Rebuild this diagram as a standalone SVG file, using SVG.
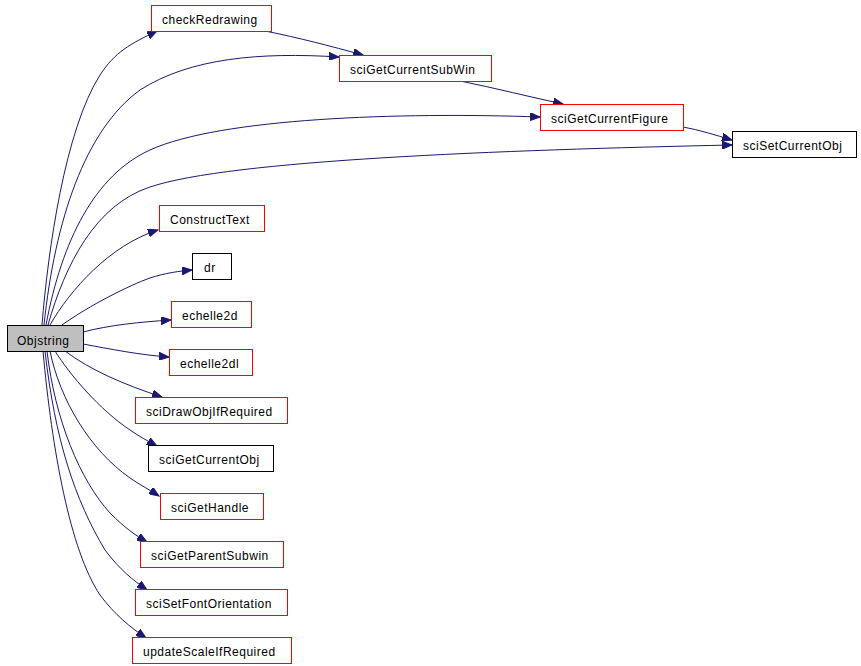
<svg xmlns="http://www.w3.org/2000/svg" width="861" height="666" viewBox="0 0 861 666">
<style>
.n rect{fill:#fff;stroke:#f00;stroke-width:1}
.n.b rect{stroke:#000}
.n.root rect{fill:#bfbfbf;stroke:#000}
.n text{font-family:"Liberation Sans",Arial,sans-serif;font-size:12px;letter-spacing:0.5px;fill:#000}
#edges path{fill:none;stroke:#191970;stroke-width:1;marker-end:url(#ah)}
</style>
<defs>
<marker id="ah" markerUnits="userSpaceOnUse" markerWidth="11" markerHeight="8" refX="10" refY="4" orient="auto">
<path d="M0,0 L10,4 L0,8 z" fill="#191970" stroke="#191970"/>
</marker>
</defs>
<rect width="861" height="666" fill="#fff"/>
<g id="edges">
<path d="M42,325 C48,250 65,130 100,75 C115,52 130,44 157,31"/>
<path d="M44,325 C55,220 85,130 140,90 C190,58 260,52 339,57"/>
<path d="M265,31 C300,38 330,46 363,55"/>
<path d="M46,325 C62,240 95,175 150,150 C220,118 400,112 540,117"/>
<path d="M460,81 C495,88 530,97 563,104"/>
<path d="M683,127 C700,130 715,135 732,140"/>
<path d="M48,325 C65,265 95,205 150,187 C230,160 500,150 732,145"/>
<path d="M50,325 C70,290 110,245 158,230"/>
<path d="M62,325 C90,305 130,285 150,278 C165,273 180,271 192,270"/>
<path d="M83,332 C110,325 140,322 171,320"/>
<path d="M83,344 C110,349 140,355 169,357"/>
<path d="M65,351 C90,370 125,385 162,397"/>
<path d="M55,351 C70,375 100,410 130,430 C140,437 148,441 157,446"/>
<path d="M50,351 C60,400 90,450 130,478 C140,485 150,490 159,496"/>
<path d="M47,351 C55,420 80,480 110,513 C125,528 135,535 147,542"/>
<path d="M45,351 C55,440 75,500 105,550 C120,570 133,580 147,590"/>
<path d="M43,351 C52,450 70,550 100,595 C115,615 130,627 146,638"/>
</g>
<g id="Objstring" class="n root"><rect x="7.5" y="325.5" width="76" height="26"/><text x="17" y="344.5">Objstring</text></g>
<g id="checkRedrawing" class="n"><rect x="151.5" y="5.5" width="120" height="26"/><text x="162" y="24">checkRedrawing</text></g>
<g id="sciGetCurrentSubWin" class="n"><rect x="339.5" y="55.5" width="152" height="26"/><text x="350" y="74">sciGetCurrentSubWin</text></g>
<g id="sciGetCurrentFigure" class="n"><rect x="540.5" y="104.5" width="143" height="26"/><text x="551" y="123">sciGetCurrentFigure</text></g>
<g id="sciSetCurrentObj" class="n b"><rect x="732.5" y="131.5" width="124" height="26"/><text x="743" y="150">sciSetCurrentObj</text></g>
<g id="ConstructText" class="n"><rect x="159.5" y="205.5" width="105" height="26"/><text x="170" y="224">ConstructText</text></g>
<g id="dr" class="n b"><rect x="192.5" y="253.5" width="39" height="26"/><text x="204" y="272">dr</text></g>
<g id="echelle2d" class="n"><rect x="171.5" y="301.5" width="80" height="26"/><text x="182" y="320">echelle2d</text></g>
<g id="echelle2dl" class="n"><rect x="169.5" y="349.5" width="83" height="26"/><text x="180" y="368">echelle2dl</text></g>
<g id="sciDrawObjIfRequired" class="n"><rect x="135.5" y="397.5" width="152" height="26"/><text x="146" y="416">sciDrawObjIfRequired</text></g>
<g id="sciGetCurrentObj" class="n b"><rect x="148.5" y="445.5" width="125" height="26"/><text x="159" y="464">sciGetCurrentObj</text></g>
<g id="sciGetHandle" class="n"><rect x="160.5" y="493.5" width="103" height="26"/><text x="171" y="512">sciGetHandle</text></g>
<g id="sciGetParentSubwin" class="n"><rect x="140.5" y="541.5" width="143" height="26"/><text x="151" y="560">sciGetParentSubwin</text></g>
<g id="sciSetFontOrientation" class="n"><rect x="135.5" y="589.5" width="152" height="26"/><text x="146" y="608">sciSetFontOrientation</text></g>
<g id="updateScaleIfRequired" class="n"><rect x="132.5" y="637.5" width="159" height="26"/><text x="143" y="656">updateScaleIfRequired</text></g>
</svg>
